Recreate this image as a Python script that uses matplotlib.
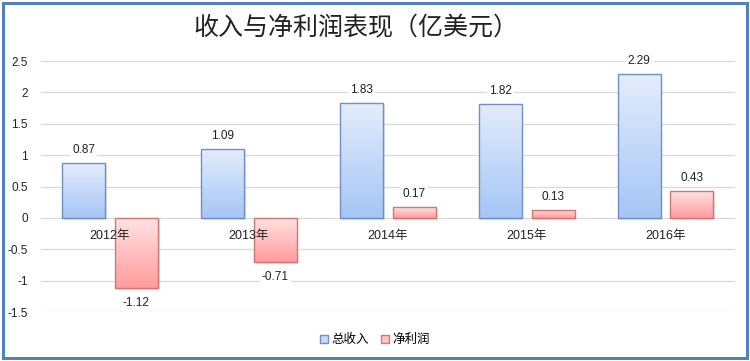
import numpy as np
import matplotlib
matplotlib.use("Agg")
import matplotlib.pyplot as plt
from matplotlib.colors import LinearSegmentedColormap
from matplotlib.patches import Rectangle

plt.rcParams['font.family'] = ['Liberation Sans', 'Noto Sans CJK SC', 'DejaVu Sans']

# Data (亿美元)
years = ["2012年", "2013年", "2014年", "2015年", "2016年"]
revenue = [0.87, 1.09, 1.83, 1.82, 2.29]
profit = [-1.12, -0.71, 0.17, 0.13, 0.43]
yticks = [-1.5, -1, -0.5, 0, 0.5, 1, 1.5, 2, 2.5]
ytick_labels = ["-1.5", "-1", "-0.5", "0", "0.5", "1", "1.5", "2", "2.5"]

blue_map = LinearSegmentedColormap.from_list("b", ["#a6c6f6", "#e3ecfc"])
red_map = LinearSegmentedColormap.from_list("r", ["#ff9c9c", "#ffe3e3"])

fig = plt.figure(figsize=(7.5, 3.61), dpi=100)
ax = fig.add_axes([0.054, 0.1357, 0.926, 0.6953])

x = np.arange(len(years))
w = 0.31
off = 0.19
grad = np.linspace(0, 1, 64).reshape(-1, 1)


def gradient_bars(xs, vals, cmap, edge):
    bars = ax.bar(xs, vals, w, facecolor="none", edgecolor=edge, linewidth=1.0, zorder=3)
    for b in bars:
        x0, y0 = b.get_x(), b.get_y()
        bw, bh = b.get_width(), b.get_height()
        y_lo, y_hi = min(y0, y0 + bh), max(y0, y0 + bh)
        # lighter at the top, darker at the bottom
        im = ax.imshow(grad, cmap=cmap, aspect="auto", origin="lower",
                       extent=(x0, x0 + bw, y_lo, y_hi), zorder=2)
        im.set_clip_path(b)
        # soft shadow
        ax.add_patch(Rectangle((x0 + 0.012, y_lo - 0.03), bw, y_hi - y_lo,
                               facecolor="#b0b0b0", alpha=0.35, edgecolor="none", zorder=1.5))
    return bars


gradient_bars(x - off, revenue, blue_map, "#6f90c6")
gradient_bars(x + off, profit, red_map, "#d47473")

for xi, v in zip(x - off, revenue):
    ax.text(xi, v + 0.21, f"{v:.2f}", ha="center", va="center", fontsize=8.5,
            color="#222222", zorder=5,
            bbox=dict(facecolor="white", edgecolor="none", pad=1.5))
for xi, v in zip(x + off, profit):
    yy = v + 0.21 if v >= 0 else v - 0.24
    ax.text(xi, yy, f"{v:.2f}", ha="center", va="center", fontsize=8.5,
            color="#222222", zorder=5,
            bbox=dict(facecolor="white", edgecolor="none", pad=1.5))

# category labels sit just under the zero line
for xi, lab in zip(x, years):
    ax.text(xi, -0.29, lab, ha="center", va="center", fontsize=9, color="#222222", zorder=6)

ax.set_xlim(-0.5, len(years) - 0.5)
ax.set_ylim(-1.5, 2.5)
ax.set_yticks(yticks)
ax.set_yticklabels(ytick_labels, fontsize=8.5, color="#222222")
ax.set_xticks([])
ax.tick_params(axis="y", length=0, pad=9)
ax.grid(axis="y", color="#d9d9d9", linewidth=0.9, zorder=0)
ax.set_axisbelow(True)
for s in ax.spines.values():
    s.set_visible(False)

fig.text(0.475, 0.922, "收入与净利润表现（亿美元）", ha="center", va="center",
         fontsize=18, family=["Noto Sans CJK SC"], fontweight="light", color="#222222")

# legend
handles = [Rectangle((0, 0), 1, 1, facecolor="#c9dbf8", edgecolor="#6f90c6"),
           Rectangle((0, 0), 1, 1, facecolor="#ffc4c4", edgecolor="#d47473")]
fig.legend(handles, ["总收入", "净利润"], loc="center", bbox_to_anchor=(0.5, 0.058),
           ncol=2, frameon=False, fontsize=9, handlelength=0.6, handleheight=0.6,
           handletextpad=0.3, columnspacing=1.0)

# outer frame
fig.patches.append(Rectangle((0.0035, 0.008), 0.9925, 0.984, transform=fig.transFigure,
                             facecolor="none", edgecolor="#4f81bd", linewidth=2.2))

fig.savefig("out.png", dpi=100)
